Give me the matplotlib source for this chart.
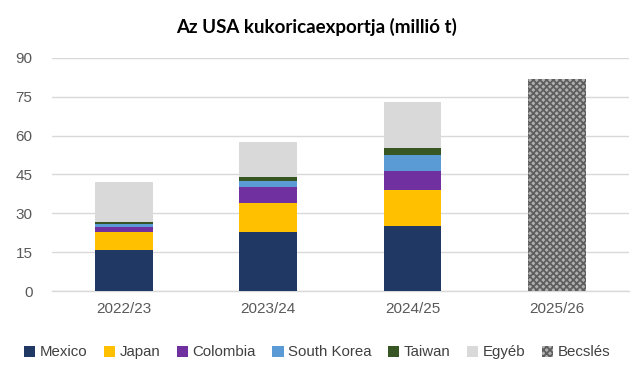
import matplotlib
matplotlib.use("Agg")
import matplotlib.pyplot as plt
from matplotlib.patches import Patch
import numpy as np

plt.rcParams['font.family'] = ['Liberation Sans', 'DejaVu Sans']
plt.rcParams['hatch.linewidth'] = 1.3

years = ["2022/23", "2023/24", "2024/25", "2025/26"]
series_names = ["Mexico", "Japan", "Colombia", "South Korea", "Taiwan", "Egyéb"]
mexico = [15.8, 22.7, 25.2, 0]
japan = [6.9, 11.2, 13.7, 0]
colombia = [2.1, 6.4, 7.6, 0]
south_korea = [0.9, 2.3, 6.2, 0]
taiwan = [0.8, 1.5, 2.4, 0]
egyeb = [15.7, 13.3, 17.8, 0]
becsles = [0, 0, 0, 81.8]
yticks = [0, 15, 30, 45, 60, 75, 90]

colors = ["#1F3864", "#FFC000", "#7030A0", "#5B9BD5", "#375623", "#D9D9D9"]
values = [mexico, japan, colombia, south_korea, taiwan, egyeb]

fig = plt.figure(figsize=(6.34, 3.76), dpi=100)
ax = fig.add_axes([0.082, 0.226, 0.910, 0.620])

x = np.arange(len(years))
w = 0.4
bottom = np.zeros(len(years))
for name, vals, c in zip(series_names, values, colors):
    ax.bar(x, vals, w, bottom=bottom, color=c, label=name, zorder=3)
    bottom += np.array(vals)

ax.bar(x, becsles, w, color="#B0B0B0", edgecolor="#5E5E5E", hatch="xxxxx",
       linewidth=0, zorder=3, label="Becslés")

ax.set_ylim(0, 90)
ax.set_xlim(-0.5, 3.5)
ax.set_yticks(yticks)
ax.set_yticklabels([str(v) for v in yticks], fontsize=11, color="#595959")
ax.set_xticks(x)
ax.set_xticklabels(years, fontsize=11, color="#595959")
ax.tick_params(length=0, pad=8)
ax.tick_params(axis='y', pad=14)
ax.grid(axis='y', color="#D9D9D9", linewidth=1, zorder=0)
for s in ["top", "right", "left"]:
    ax.spines[s].set_visible(False)
ax.spines["bottom"].set_color("#D9D9D9")
ax.spines["bottom"].set_linewidth(1)

fig.text(0.5, 0.928, "Az USA kukoricaexportja (millió t)", ha="center", va="center",
         fontsize=13.5, fontweight="bold", color="#000000", family=['Lato', 'DejaVu Sans'])

handles = [Patch(facecolor=c, label=n) for n, c in zip(series_names, colors)]
handles.append(Patch(facecolor="#B0B0B0", edgecolor="#5E5E5E", hatch="xxxxx", linewidth=0, label="Becslés"))
leg = fig.legend(handles=handles, loc="center", bbox_to_anchor=(0.5, 0.063), ncol=7,
                 frameon=False, fontsize=10.8, handlelength=0.75, handleheight=0.75,
                 handletextpad=0.3, columnspacing=1.1)
for t in leg.get_texts():
    t.set_color("#404040")

fig.savefig("out.png", dpi=100)
